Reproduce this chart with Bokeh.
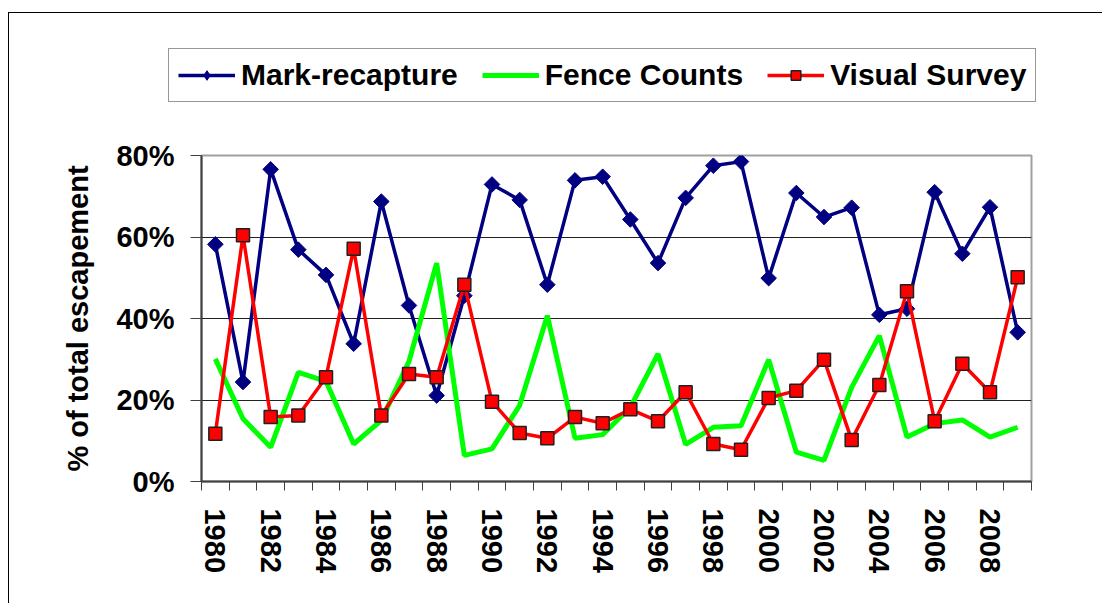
from bokeh.plotting import figure
from bokeh.models import FixedTicker, Legend, LegendItem
from bokeh.layouts import column
from bokeh.embed import file_html
from bokeh.resources import INLINE

years = list(range(1980, 2010))
mark_recapture = [58.2, 24.4, 76.6, 56.9, 50.7, 33.8, 68.7, 43.2, 21.1, 45.6,
                  72.9, 69.1, 48.3, 73.9, 74.8, 64.3, 53.6, 69.6, 77.5, 78.5,
                  49.9, 70.8, 64.9, 67.2, 40.9, 42.4, 71.0, 55.9, 67.3, 36.6]
fence_counts = [30.1, 15.4, 8.4, 26.8, 24.6, 9.2, 15.0, 29.5, 53.6, 6.4,
                8.0, 18.7, 40.7, 10.6, 11.5, 18.2, 31.3, 9.1, 13.3, 13.7,
                29.9, 7.2, 5.2, 23.1, 35.8, 10.9, 14.2, 15.1, 10.9, 13.3]
visual_survey = [11.7, 60.4, 15.8, 16.2, 25.6, 57.1, 16.2, 26.4, 25.6, 48.3,
                 19.6, 11.9, 10.6, 15.8, 14.3, 17.7, 14.8, 21.9, 9.2, 7.8,
                 20.5, 22.3, 29.9, 10.2, 23.7, 46.7, 14.8, 28.9, 21.9, 50.1]
series_names = ["Mark-recapture", "Fence Counts", "Visual Survey"]
y_ticks = [0, 20, 40, 60, 80]
y_tick_labels = ["0%", "20%", "40%", "60%", "80%"]
x_label_years = list(range(1980, 2010, 2))
y_title = "% of total escapement"

FONT = "Liberation Sans"
NAVY, GREEN, RED = "#000080", "#00ff00", "#ff0000"

# ---------------- main chart ----------------
p = figure(width=1093, height=473, output_backend="svg", toolbar_location=None,
           x_range=(years[0] - 0.5, years[-1] + 0.5), y_range=(0, 80),
           min_border_left=192, min_border_right=71,
           min_border_top=25, min_border_bottom=122)
p.frame_align = False
p.background_fill_color = "white"
p.border_fill_color = "white"
p.outline_line_color = "#a0a0a0"
p.outline_line_width = 2

p.xgrid.grid_line_color = None
p.ygrid.grid_line_color = "#222222"
p.ygrid.grid_line_width = 1

p.yaxis.ticker = FixedTicker(ticks=y_ticks)
p.yaxis.major_label_overrides = {t: l for t, l in zip(y_ticks, y_tick_labels)}
p.yaxis.major_tick_out = 11
p.yaxis.major_tick_in = 0
p.yaxis.minor_tick_line_color = None
p.yaxis.axis_line_color = "#404040"
p.yaxis.axis_line_width = 2
p.yaxis.major_tick_line_color = "#404040"
p.yaxis.major_label_standoff = 16
p.yaxis.major_label_text_font = FONT
p.yaxis.major_label_text_font_style = "bold"
p.yaxis.major_label_text_font_size = "29px"
p.yaxis.major_label_text_color = "black"
p.yaxis.axis_label = y_title
p.yaxis.axis_label_text_font = FONT
p.yaxis.axis_label_text_font_style = "bold"
p.yaxis.axis_label_text_font_size = "29px"
p.yaxis.axis_label_text_color = "black"
p.yaxis.axis_label_standoff = 19

half_ticks = [y - 0.5 for y in years] + [years[-1] + 0.5]
p.xaxis.ticker = FixedTicker(ticks=x_label_years, minor_ticks=half_ticks)
p.xaxis.major_tick_out = 0
p.xaxis.major_tick_in = 0
p.xaxis.minor_tick_out = 9
p.xaxis.minor_tick_in = 0
p.xaxis.minor_tick_line_color = "#404040"
p.xaxis.axis_line_color = "#404040"
p.xaxis.axis_line_width = 2
p.xaxis.major_label_orientation = "vertical"
p.xaxis.major_label_standoff = 18
p.xaxis.major_label_text_font = FONT
p.xaxis.major_label_text_font_style = "bold"
p.xaxis.major_label_text_font_size = "29px"
p.xaxis.major_label_text_color = "black"

p.line(years, mark_recapture, line_color=NAVY, line_width=3.5)
p.scatter(years, mark_recapture, marker="square", angle=0.785398, size=11,
          fill_color=NAVY, line_color=NAVY)
p.line(years, fence_counts, line_color=GREEN, line_width=5)
p.line(years, visual_survey, line_color=RED, line_width=3.5)
p.scatter(years, visual_survey, marker="square", size=13,
          fill_color=RED, line_color="#202020", line_width=1.5)

# ---------------- legend strip ----------------
pl = figure(width=1093, height=117, output_backend="svg", toolbar_location=None,
            x_range=(0, 1), y_range=(0, 1),
            min_border_left=0, min_border_right=0, min_border_top=0, min_border_bottom=0)
pl.frame_align = False
pl.axis.visible = False
pl.grid.grid_line_color = None
pl.outline_line_color = None
pl.background_fill_color = "white"
pl.border_fill_color = "white"

# legend-only renderers: their single point lies outside the visible range
off = [5]
l1 = pl.line(off, off, line_color=NAVY, line_width=3.5)
s1 = pl.scatter(off, off, marker="diamond", size=20, fill_color=NAVY, line_color=NAVY)
l2 = pl.line(off, off, line_color=GREEN, line_width=5)
l3 = pl.line(off, off, line_color=RED, line_width=3.5)
s3 = pl.scatter(off, off, marker="square", size=13, fill_color=RED, line_color="#202020", line_width=1.5)

legend = Legend(items=[LegendItem(label=series_names[0], renderers=[l1, s1]),
                       LegendItem(label=series_names[1], renderers=[l2]),
                       LegendItem(label=series_names[2], renderers=[l3, s3])],
                orientation="horizontal", location=(159, 28), margin=0)
legend.label_text_font = FONT
legend.label_text_font_style = "bold"
legend.label_text_font_size = "30px"
legend.label_text_color = "black"
legend.glyph_width = 57
legend.glyph_height = 24
legend.label_standoff = 6
legend.spacing = 24
legend.padding = 9
legend.border_line_color = "#303030"
legend.border_line_width = 1.5
legend.background_fill_color = "white"
legend.background_fill_alpha = 1
pl.add_layout(legend, "center")

layout = column(pl, p, spacing=0,
                styles={"margin-left": "8px", "margin-top": "12px",
                        "border-top": "1px solid #000", "border-left": "1px solid #000"})
open("out.html", "w").write(file_html(layout, INLINE))
